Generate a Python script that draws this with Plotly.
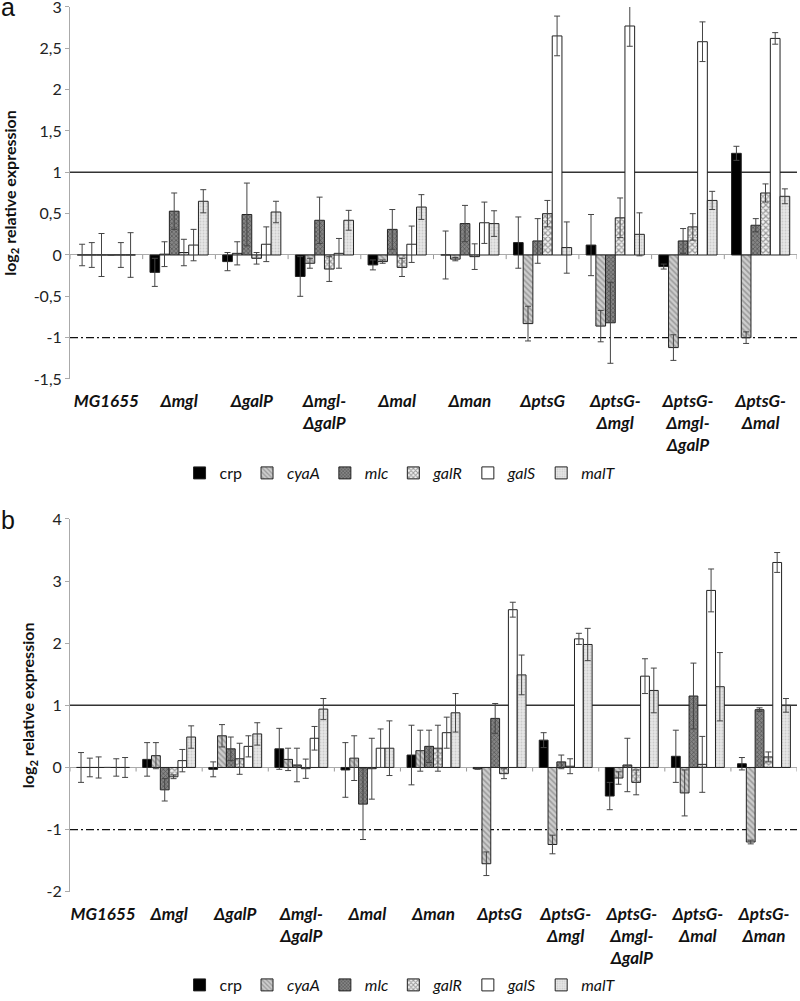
import plotly.graph_objects as go

# ---------------- data ----------------
genes = ["crp", "cyaA", "mlc", "galR", "galS", "malT"]
legend_names = ["crp", "<i>cyaA</i>", "<i>mlc</i>", "<i>galR</i>", "<i>galS</i>", "<i>malT</i>"]

cats_a = ["MG1655", "Δmgl", "ΔgalP", "Δmgl-<br>ΔgalP", "Δmal", "Δman", "ΔptsG",
          "ΔptsG-<br>Δmgl", "ΔptsG-<br>Δmgl-<br>ΔgalP", "ΔptsG-<br>Δmal"]
cats_b = ["MG1655", "Δmgl", "ΔgalP", "Δmgl-<br>ΔgalP", "Δmal", "Δman", "ΔptsG",
          "ΔptsG-<br>Δmgl", "ΔptsG-<br>Δmgl-<br>ΔgalP", "ΔptsG-<br>Δmal", "ΔptsG-<br>Δman"]

# panel a values
crp_a = [0, -0.21, -0.08, -0.26, -0.12, 0, 0.15, 0.12, -0.14, 1.23]
crp_a_err = [0.13, 0.17, 0.11, 0.24, 0.06, 0.29, 0.31, 0.37, 0.03, 0.085]
cyaA_a = [0, 0.01, 0.02, -0.10, -0.08, -0.05, -0.83, -0.86, -1.12, -1.00]
cyaA_a_err = [0.15, 0.15, 0.14, 0.06, 0.02, 0.02, 0.21, 0.19, 0.155, 0.07]
mlc_a = [0, 0.53, 0.49, 0.42, 0.31, 0.38, 0.17, -0.82, 0.17, 0.36]
mlc_a_err = [0.26, 0.22, 0.38, 0.28, 0.24, 0.22, 0.27, 0.49, 0.15, 0.08]
galR_a = [0, 0.03, -0.04, -0.17, -0.15, -0.02, 0.50, 0.45, 0.34, 0.75]
galR_a_err = [0, 0.16, 0.07, 0.15, 0.11, 0.155, 0.16, 0.24, 0.16, 0.11]
galS_a = [0, 0.12, 0.13, 0.02, 0.13, 0.39, 2.65, 2.77, 2.58, 2.62]
galS_a_err = [0.15, 0.19, 0.21, 0.18, 0.22, 0.25, 0.24, 0.245, 0.24, 0.07]
malT_a = [0, 0.65, 0.52, 0.42, 0.58, 0.38, 0.09, 0.25, 0.66, 0.71]
malT_a_err = [0.27, 0.14, 0.13, 0.12, 0.15, 0.155, 0.31, 0.26, 0.11, 0.09]

# panel b values
crp_b = [0, 0.13, -0.03, 0.30, -0.04, 0.20, -0.02, 0.44, -0.46, 0.18, 0.06]
crp_b_err = [0.24, 0.27, 0.12, 0.33, 0.44, 0.48, 0.01, 0.12, 0.22, 0.42, 0.10]
cyaA_b = [0, 0.19, 0.51, 0.13, 0.15, 0.27, -1.55, -1.24, -0.17, -0.41, -1.20]
cyaA_b_err = [0.15, 0.21, 0.18, 0.18, 0.36, 0.33, 0.19, 0.15, 0.10, 0.37, 0.03]
mlc_b = [0, -0.36, 0.30, 0.04, -0.59, 0.34, 0.79, 0.09, 0.04, 1.15, 0.93]
mlc_b_err = [0.17, 0.18, 0.19, 0.27, 0.57, 0.26, 0.24, 0.11, 0.43, 0.53, 0.03]
galR_b = [0, -0.15, 0.14, -0.02, -0.02, 0.31, -0.10, 0.02, -0.24, 0.05, 0.17]
galR_b_err = [0, 0.03, 0.25, 0.155, 0.49, 0.37, 0.08, 0.12, 0.20, 0.45, 0.08]
galS_b = [0, 0.11, 0.34, 0.47, 0.31, 0.56, 2.54, 2.07, 1.47, 2.85, 3.30]
galS_b_err = [0.14, 0.18, 0.17, 0.19, 0.31, 0.25, 0.12, 0.09, 0.28, 0.345, 0.16]
malT_b = [0, 0.49, 0.54, 0.94, 0.31, 0.88, 1.49, 1.98, 1.24, 1.30, 1.00]
malT_b_err = [0.16, 0.18, 0.18, 0.17, 0.44, 0.31, 0.32, 0.26, 0.36, 0.55, 0.11]

ticks_a = [-1.5, -1, -0.5, 0, 0.5, 1, 1.5, 2, 2.5, 3]
ticktext_a = ["-1,5", "-1", "-0,5", "0", "0,5", "1", "1,5", "2", "2,5", "3"]
ticks_b = [-2, -1, 0, 1, 2, 3, 4]
ticktext_b = ["-2", "-1", "0", "1", "2", "3", "4"]

vals_a = [crp_a, cyaA_a, mlc_a, galR_a, galS_a, malT_a]
errs_a = [crp_a_err, cyaA_a_err, mlc_a_err, galR_a_err, galS_a_err, malT_a_err]
vals_b = [crp_b, cyaA_b, mlc_b, galR_b, galS_b, malT_b]
errs_b = [crp_b_err, cyaA_b_err, mlc_b_err, galR_b_err, galS_b_err, malT_b_err]

# ---------------- styles ----------------
styles = {
    "crp": dict(color="#000000", pattern=dict(shape="")),
    "cyaA": dict(color="#bdbdbd", pattern=dict(shape="\\", bgcolor="#cdcdcd", fgcolor="#6a6a6a",
                                               size=4, solidity=0.4)),
    "mlc": dict(color="#777777", pattern=dict(shape="x", bgcolor="#858585", fgcolor="#2e2e2e",
                                              size=3, solidity=0.45)),
    "galR": dict(color="#dddddd", pattern=dict(shape="x", bgcolor="#f2f2f2", fgcolor="#3c3c3c",
                                               size=4, solidity=0.5)),
    "galS": dict(color="#ffffff", pattern=dict(shape="")),
    "malT": dict(color="#e6e6e6", pattern=dict(shape=".", bgcolor="#e6e6e6", fgcolor="#b0b0b0",
                                               size=3, solidity=0.3)),
}

FONT = "Lato"
fig = go.Figure()

for g, name, v, e in zip(genes, legend_names, vals_a, errs_a):
    st = styles[g]
    fig.add_trace(go.Bar(
        x=list(range(len(cats_a))), y=v, name=name, xaxis="x", yaxis="y", legend="legend",
        marker=dict(color=st["color"], pattern=st["pattern"], line=dict(color="#222222", width=1)),
        error_y=dict(type="data", array=e, color="#444444", thickness=1, width=3),
    ))
for g, name, v, e in zip(genes, legend_names, vals_b, errs_b):
    st = styles[g]
    fig.add_trace(go.Bar(
        x=list(range(len(cats_b))), y=v, name=name, xaxis="x2", yaxis="y2", legend="legend2",
        marker=dict(color=st["color"], pattern=st["pattern"], line=dict(color="#222222", width=1)),
        error_y=dict(type="data", array=e, color="#444444", thickness=1, width=3),
    ))

shapes = []
def ref_lines(xref, yref, n, tick_depth):
    out = []
    out.append(dict(type="line", xref=xref + " domain", yref=yref, x0=0, x1=1, y0=1, y1=1,
                    line=dict(color="#333333", width=1.5), layer="below"))
    out.append(dict(type="line", xref=xref + " domain", yref=yref, x0=0, x1=1, y0=-1, y1=-1,
                    line=dict(color="#111111", width=1.3, dash="8px,3px,2px,3px"), layer="below"))
    for i in range(n + 1):
        out.append(dict(type="line", xref=xref, yref=yref, x0=i - 0.5, x1=i - 0.5, y0=0,
                        y1=-tick_depth, line=dict(color="#999999", width=1), layer="below"))
    return out

shapes += ref_lines("x", "y", len(cats_a), 0.05)
shapes += ref_lines("x2", "y2", len(cats_b), 0.065)

def y_axis(standoff):
    return dict(showgrid=False, zeroline=True, zerolinecolor="#aaaaaa", zerolinewidth=1,
                showline=True, linecolor="#aaaaaa", linewidth=1, ticks="outside",
                ticklen=4, tickcolor="#aaaaaa", automargin=False, ticklabeloverflow="allow",
                tickfont=dict(family=FONT, size=16, color="#222222"),
                title=dict(text="<b>log<sub>2</sub> relative expression</b>",
                           font=dict(family=FONT, size=16, color="#111111"), standoff=standoff))

axis_common_x = dict(showgrid=False, zeroline=False, showline=False, ticks="", automargin=False,
                     tickfont=dict(family=FONT, size=17, color="#111111", weight="bold", style="italic"),
                     ticklabelstandoff=10, tickangle=0)

fig.update_layout(
    width=800, height=1001,
    margin=dict(l=70, r=3, t=0, b=0, autoexpand=False),
    paper_bgcolor="white", plot_bgcolor="white",
    barmode="group", bargap=0.2, bargroupgap=0,
    font=dict(family=FONT, color="#111111"),
    xaxis=dict(domain=[0, 1], anchor="y", range=[-0.5, len(cats_a) - 0.5],
               tickvals=list(range(len(cats_a))), ticktext=cats_a, **axis_common_x),
    yaxis=dict(domain=[0.62138, 0.99301], anchor="x", range=[-1.5, 3],
               tickvals=ticks_a, ticktext=ticktext_a, **y_axis(14)),
    xaxis2=dict(domain=[0, 1], anchor="y2", range=[-0.5, len(cats_b) - 0.5],
                tickvals=list(range(len(cats_b))), ticktext=cats_b, **axis_common_x),
    yaxis2=dict(domain=[0.10919, 0.48152], anchor="x2", range=[-2, 4],
                tickvals=ticks_b, ticktext=ticktext_b, **y_axis(7)),
    legend=dict(orientation="h", x=0.454, xanchor="center", y=1 - 473 / 1001, yanchor="middle",
                font=dict(family=FONT, size=16, color="#111111"), itemwidth=30,
                bgcolor="rgba(0,0,0,0)", traceorder="normal"),
    legend2=dict(orientation="h", x=0.454, xanchor="center", y=1 - 985 / 1001, yanchor="middle",
                 font=dict(family=FONT, size=16, color="#111111"), itemwidth=30,
                 bgcolor="rgba(0,0,0,0)", traceorder="normal"),
    shapes=shapes,
    annotations=[
        dict(text="a", xref="paper", yref="paper", x=-71 / 727, y=1 - 7 / 1001, xanchor="left",
             yanchor="middle", showarrow=False,
             font=dict(family="Liberation Sans", size=25, color="#111111")),
        dict(text="b", xref="paper", yref="paper", x=-71 / 727, y=1 - 520 / 1001, xanchor="left",
             yanchor="middle", showarrow=False,
             font=dict(family="Liberation Sans", size=25, color="#111111")),
    ],
)

fig.write_html("out.html", config={"displayModeBar": False},
               post_script="document.body.style.margin='0';")
